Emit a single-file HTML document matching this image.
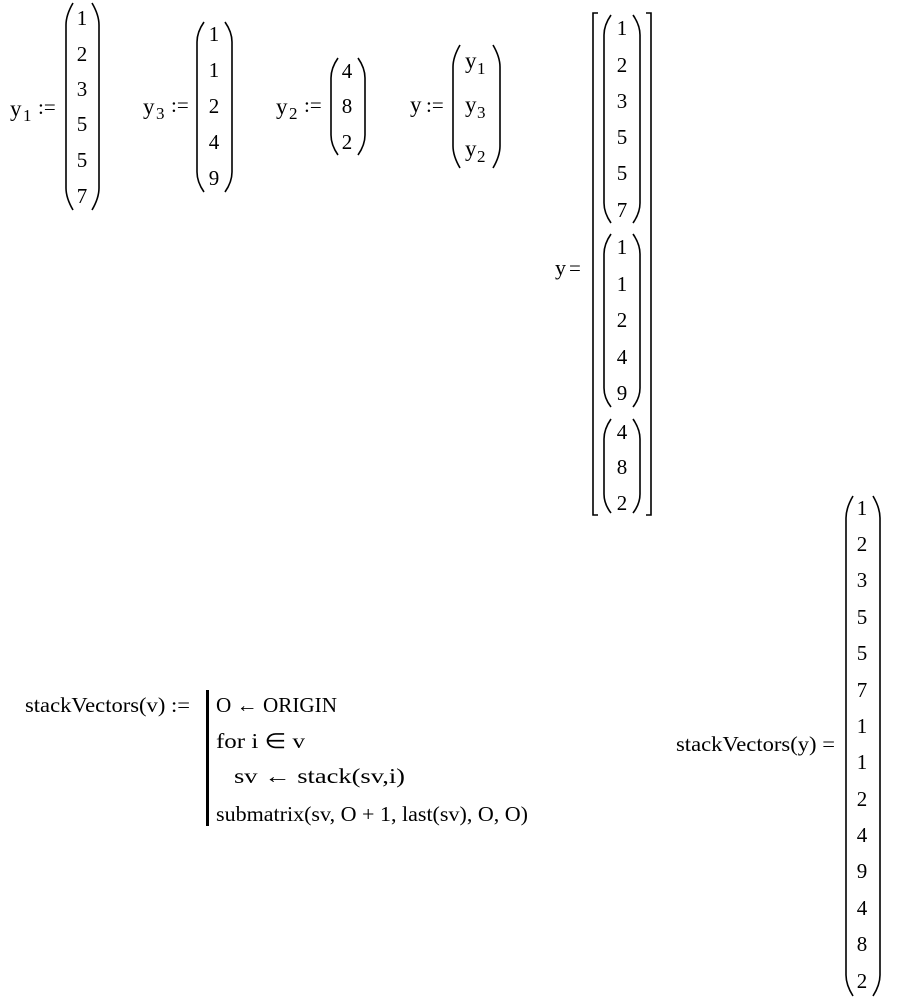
<!DOCTYPE html>
<html><head><meta charset="utf-8"><style>
html,body{margin:0;padding:0;background:#fff;}
svg{display:block;}
text{font-family:"Liberation Serif",serif;font-size:21px;fill:#000;}
.d{text-anchor:middle;}
.s{font-size:17px;}
path{fill:none;stroke:#000;stroke-width:1.6;}
</style></head><body>
<svg width="898" height="999" viewBox="0 0 898 999" xmlns="http://www.w3.org/2000/svg">
<!-- y1 -->
<text x="10" y="116" style="font-size:23px">y</text><text class="s" x="23" y="121">1</text>
<text x="38" y="114">:=</text>
<path d="M73 3 Q66 15 66 25 L66 188 Q66 198 73 210"/>
<path d="M92 3 Q99 15 99 25 L99 188 Q99 198 92 210"/>
<text class="d" x="82" y="25">1</text><text class="d" x="82" y="61">2</text><text class="d" x="82" y="96">3</text>
<text class="d" x="82" y="131">5</text><text class="d" x="82" y="167">5</text><text class="d" x="82" y="203">7</text>
<!-- y3 -->
<text x="143" y="114" style="font-size:23px">y</text><text class="s" x="156" y="119">3</text>
<text x="171" y="112">:=</text>
<path d="M204 22 Q197 32 197 42 L197 172 Q197 182 204 192"/>
<path d="M225 22 Q232 32 232 42 L232 172 Q232 182 225 192"/>
<text class="d" x="214" y="41">1</text><text class="d" x="214" y="77">1</text><text class="d" x="214" y="113">2</text>
<text class="d" x="214" y="149">4</text><text class="d" x="214" y="185">9</text>
<!-- y2 -->
<text x="276" y="114" style="font-size:23px">y</text><text class="s" x="289" y="119">2</text>
<text x="304" y="112">:=</text>
<path d="M338 58 Q331 68 331 78 L331 135 Q331 145 338 155"/>
<path d="M358 58 Q365 68 365 78 L365 135 Q365 145 358 155"/>
<text class="d" x="347" y="78">4</text><text class="d" x="347" y="113">8</text><text class="d" x="347" y="149">2</text>
<!-- y -->
<text x="410" y="112" style="font-size:23px">y</text>
<text x="426" y="112">:=</text>
<path d="M460 45 Q453 57 453 67 L453 146 Q453 156 460 168"/>
<path d="M493 45 Q500 57 500 67 L500 146 Q500 156 493 168"/>
<text x="465" y="68" style="font-size:23px">y</text><text class="s" x="477" y="74">1</text>
<text x="465" y="112" style="font-size:23px">y</text><text class="s" x="477" y="118">3</text>
<text x="465" y="156" style="font-size:23px">y</text><text class="s" x="477" y="162">2</text>
<!-- y = -->
<text x="555" y="275" style="font-size:22px">y</text><text x="569" y="275">=</text>
<path d="M598 13 L593 13 L593 515 L598 515"/>
<path d="M646 13 L651 13 L651 515 L646 515"/>
<path d="M611 15 Q604 25 604 35 L604 203 Q604 213 611 223"/>
<path d="M633 15 Q640 25 640 35 L640 203 Q640 213 633 223"/>
<text class="d" x="622" y="35">1</text><text class="d" x="622" y="72">2</text><text class="d" x="622" y="108">3</text>
<text class="d" x="622" y="144">5</text><text class="d" x="622" y="180">5</text><text class="d" x="622" y="217">7</text>
<path d="M611 234 Q604 244 604 254 L604 388 Q604 398 611 407"/>
<path d="M633 234 Q640 244 640 254 L640 388 Q640 398 633 407"/>
<text class="d" x="622" y="254">1</text><text class="d" x="622" y="291">1</text><text class="d" x="622" y="327">2</text>
<text class="d" x="622" y="364">4</text><text class="d" x="622" y="400">9</text>
<path d="M611 419 Q604 429 604 439 L604 494 Q604 504 611 513"/>
<path d="M633 419 Q640 429 640 439 L640 494 Q640 504 633 513"/>
<text class="d" x="622" y="439">4</text><text class="d" x="622" y="474">8</text><text class="d" x="622" y="510">2</text>
<!-- stackVectors def -->
<text x="25" y="712" textLength="165" lengthAdjust="spacingAndGlyphs">stackVectors(v) :=</text>
<line x1="207.5" y1="690" x2="207.5" y2="826" stroke="#000" stroke-width="3"/>
<text x="216" y="712" textLength="121" lengthAdjust="spacingAndGlyphs">O ← ORIGIN</text>
<text x="216" y="748" textLength="89" lengthAdjust="spacingAndGlyphs">for  i ∈ v</text>
<text x="234" y="783" textLength="171" lengthAdjust="spacingAndGlyphs">sv ← stack(sv,i)</text>
<text x="216" y="821" textLength="312" lengthAdjust="spacingAndGlyphs">submatrix(sv, O + 1, last(sv), O, O)</text>
<!-- stackVectors(y) -->
<text x="676" y="751" textLength="159" lengthAdjust="spacingAndGlyphs">stackVectors(y) =</text>
<path d="M853 496 Q846 508 846 518 L846 975 Q846 985 853 996"/>
<path d="M873 496 Q880 508 880 518 L880 975 Q880 985 873 996"/>
<text class="d" x="862" y="515">1</text><text class="d" x="862" y="551">2</text><text class="d" x="862" y="587">3</text>
<text class="d" x="862" y="624">5</text><text class="d" x="862" y="660">5</text><text class="d" x="862" y="697">7</text>
<text class="d" x="862" y="733">1</text><text class="d" x="862" y="769">1</text><text class="d" x="862" y="806">2</text>
<text class="d" x="862" y="842">4</text><text class="d" x="862" y="878">9</text><text class="d" x="862" y="915">4</text>
<text class="d" x="862" y="951">8</text><text class="d" x="862" y="988">2</text>
</svg>
</body></html>
